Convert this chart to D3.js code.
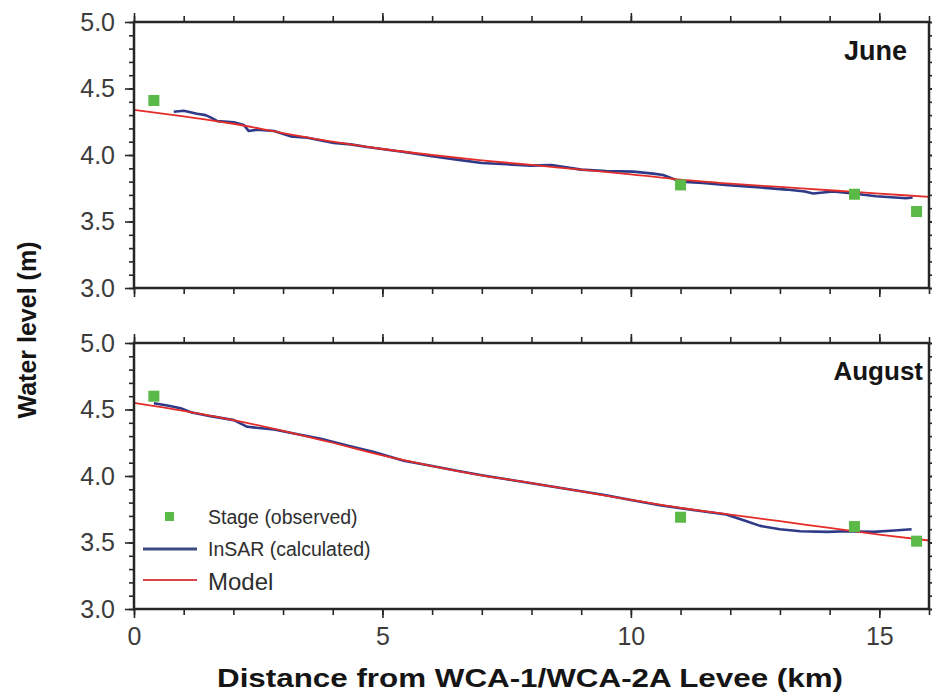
<!DOCTYPE html>
<html>
<head>
<meta charset="utf-8">
<script src="https://cdn.jsdelivr.net/npm/d3@7"></script>
<style>
  html, body { margin: 0; padding: 0; background: #fff; }
  svg text { font-family: "Liberation Sans", Arial, Helvetica, sans-serif; }
</style>
</head>
<body>
<svg id="chart" width="932" height="692"></svg>
<script>
// Stage gauges (observed), distance in km and water level in m
const juneStageKm = [0.4, 11.0, 14.5, 15.75];
const juneStage   = [4.41, 3.775, 3.705, 3.575];
const augStageKm  = [0.4, 11.0, 14.5, 15.75];
const augStage    = [4.60, 3.69, 3.62, 3.51];

// InSAR-derived water level profiles
const juneInsarKm = [0.8, 1.0, 1.27, 1.44, 1.54, 1.68, 2.01, 2.21, 2.31, 2.48, 2.82, 3.15, 3.49, 4.02, 4.36, 4.69,
  5.4, 6.0, 6.5, 7.0, 7.5, 8.0, 8.4, 9.0, 9.5, 10.05, 10.45, 10.65, 11.0, 11.45, 11.9, 12.46, 13.13, 13.5, 13.67,
  14.07, 14.47, 14.94, 15.54, 15.67];
const juneInsar = [4.325, 4.333, 4.31, 4.30, 4.283, 4.255, 4.246, 4.226, 4.18, 4.19, 4.18, 4.14, 4.13, 4.09, 4.08, 4.06,
  4.025, 3.99, 3.965, 3.94, 3.93, 3.92, 3.925, 3.89, 3.88, 3.875, 3.86, 3.85, 3.80, 3.79, 3.775, 3.76, 3.74, 3.725, 3.71,
  3.725, 3.71, 3.69, 3.675, 3.68];
const augInsarKm = [0.4, 0.67, 0.94, 1.14, 1.54, 2.01, 2.28, 2.82, 3.22, 3.76, 4.29, 4.83, 5.43, 6.0, 6.5, 7.0, 7.5,
  8.0, 8.5, 9.0, 9.5, 10.0, 10.58, 11.25, 11.92, 12.33, 12.6, 13.0, 13.41, 13.95, 14.35, 14.88, 15.3, 15.65];
const augInsar = [4.547, 4.53, 4.51, 4.48, 4.45, 4.42, 4.37, 4.35, 4.32, 4.28, 4.23, 4.18, 4.115, 4.075, 4.04, 4.005, 3.975,
  3.945, 3.915, 3.885, 3.855, 3.82, 3.78, 3.745, 3.71, 3.66, 3.625, 3.60, 3.585, 3.58, 3.585, 3.58, 3.59, 3.60];

// Model profiles sampled every km
const modelKm   = [0, 1, 2, 3, 4, 5, 6, 7, 8, 9, 10, 11, 12, 13, 14, 15, 16];
const juneModel = [4.34, 4.29, 4.235, 4.165, 4.10, 4.045, 4.00, 3.96, 3.925, 3.89, 3.855, 3.815, 3.785, 3.76, 3.735, 3.71, 3.685];
const augModel  = [4.55, 4.49, 4.42, 4.34, 4.25, 4.155, 4.075, 4.005, 3.947, 3.885, 3.82, 3.76, 3.71, 3.66, 3.61, 3.56, 3.515];

// Axis ticks and labels
const xMajorTicks = [0, 5, 10, 15];
const xMinorTicks = d3.range(0, 17, 1);
const yMajorTicks = [3.0, 3.5, 4.0, 4.5, 5.0];
const yMinorTicks = d3.range(30, 51, 1).map(d => d / 10);
const legendLabels = ["Stage (observed)", "InSAR (calculated)", "Model"];

const colStage = "#5bb947", colInsar = "#2e3a88", colModel = "#e42c28", colFrame = "#262626", colTick = "#3c3c3c";

const svg = d3.select("#chart");
const left = 134, right = 929, panelH = 266;
const panelTops = [22, 343];

const x = d3.scaleLinear().domain([0, 16]).range([left, right]);

const panels = [
  { name: "June", top: panelTops[0], stageKm: juneStageKm, stage: juneStage, insarKm: juneInsarKm, insar: juneInsar, model: juneModel, labelX: 907, labelY: 60, labelSize: 27, legend: false, xLabels: false },
  { name: "August", top: panelTops[1], stageKm: augStageKm, stage: augStage, insarKm: augInsarKm, insar: augInsar, model: augModel, labelX: 923, labelY: 380, labelSize: 26, legend: true, xLabels: true }
];

panels.forEach((p, i) => {
  const y = d3.scaleLinear().domain([3, 5]).range([p.top + panelH, p.top]);
  const g = svg.append("g");

  const clipId = "clip" + i;
  svg.append("clipPath").attr("id", clipId)
    .append("rect").attr("x", left).attr("y", p.top).attr("width", right - left).attr("height", panelH);

  // axes: major and minor ticks on all four sides, pointing outward
  const addAxis = (axis, tx, ty, labels) => {
    const a = g.append("g").attr("transform", `translate(${tx},${ty})`).call(axis);
    a.select(".domain").remove();
    a.selectAll(".tick line").attr("stroke", colFrame).attr("stroke-width", 1.6);
    if (!labels) a.selectAll(".tick text").remove();
    else a.selectAll(".tick text").attr("fill", colTick).attr("font-size", 25);
    return a;
  };
  addAxis(d3.axisLeft(y).tickValues(yMinorTicks).tickSize(5).tickFormat(""), left, 0, false);
  addAxis(d3.axisLeft(y).tickValues(yMajorTicks).tickSize(9).tickPadding(10).tickFormat(d3.format(".1f")), left, 0, true);
  addAxis(d3.axisRight(y).tickValues(yMinorTicks).tickSize(5).tickFormat(""), right, 0, false);
  addAxis(d3.axisRight(y).tickValues(yMajorTicks).tickSize(9).tickFormat(""), right, 0, false);
  addAxis(d3.axisTop(x).tickValues(xMinorTicks).tickSize(6).tickFormat(""), 0, p.top, false);
  addAxis(d3.axisTop(x).tickValues(xMajorTicks).tickSize(9).tickFormat(""), 0, p.top, false);
  addAxis(d3.axisBottom(x).tickValues(xMinorTicks).tickSize(6).tickFormat(""), 0, p.top + panelH, false);
  addAxis(d3.axisBottom(x).tickValues(xMajorTicks).tickSize(9).tickPadding(9).tickFormat(d3.format("d")), 0, p.top + panelH, p.xLabels);

  const plot = g.append("g").attr("clip-path", `url(#${clipId})`);

  // InSAR profile
  plot.append("path")
    .datum(p.insarKm.map((k, j) => [k, p.insar[j]]))
    .attr("fill", "none").attr("stroke", colInsar).attr("stroke-width", 2.6).attr("stroke-linejoin", "round")
    .attr("d", d3.line().x(d => x(d[0])).y(d => y(d[1])));

  // Model profile
  plot.append("path")
    .datum(modelKm.map((k, j) => [k, p.model[j]]))
    .attr("fill", "none").attr("stroke", colModel).attr("stroke-width", 1.8)
    .attr("d", d3.line().curve(d3.curveMonotoneX).x(d => x(d[0])).y(d => y(d[1])));

  // Stage gauges
  const sq = 11;
  g.append("g").selectAll("rect")
    .data(p.stageKm.map((k, j) => [k, p.stage[j]]))
    .join("rect")
    .attr("x", d => x(d[0]) - sq / 2).attr("y", d => y(d[1]) - sq / 2)
    .attr("width", sq).attr("height", sq).attr("fill", colStage);

  // Frame
  g.append("rect").attr("x", left).attr("y", p.top).attr("width", right - left).attr("height", panelH)
    .attr("fill", "none").attr("stroke", colFrame).attr("stroke-width", 2.5);

  // Month label
  g.append("text").attr("x", p.labelX).attr("y", p.labelY).attr("text-anchor", "end")
    .attr("font-weight", "bold").attr("font-size", p.labelSize).attr("fill", "#151515").text(p.name);

  if (p.legend) {
    const lg = g.append("g");
    lg.append("rect").attr("x", 165).attr("y", 512).attr("width", 9).attr("height", 9).attr("fill", colStage);
    lg.append("line").attr("x1", 143).attr("x2", 197).attr("y1", 549).attr("y2", 549)
      .attr("stroke", "#3d4a82").attr("stroke-width", 3);
    lg.append("line").attr("x1", 143).attr("x2", 197).attr("y1", 580).attr("y2", 580)
      .attr("stroke", "#d9464a").attr("stroke-width", 2);
    const ly = [524, 556, 590];
    const ls = [19.5, 19.5, 24];
    legendLabels.forEach((t, j) => {
      lg.append("text").attr("x", 208).attr("y", ly[j]).attr("font-size", ls[j]).attr("fill", "#2e2e2e").text(t);
    });
  }
});

// Axis titles
svg.append("text")
  .attr("x", 530).attr("y", 687).attr("text-anchor", "middle")
  .attr("font-weight", "bold").attr("font-size", 26).attr("fill", "#151515")
  .attr("textLength", 626).attr("lengthAdjust", "spacingAndGlyphs")
  .text("Distance from WCA-1/WCA-2A Levee (km)");

svg.append("text")
  .attr("transform", "translate(36,330) rotate(-90)")
  .attr("text-anchor", "middle")
  .attr("font-weight", "bold").attr("font-size", 25).attr("fill", "#151515")
  .text("Water level (m)");
</script>
</body>
</html>
